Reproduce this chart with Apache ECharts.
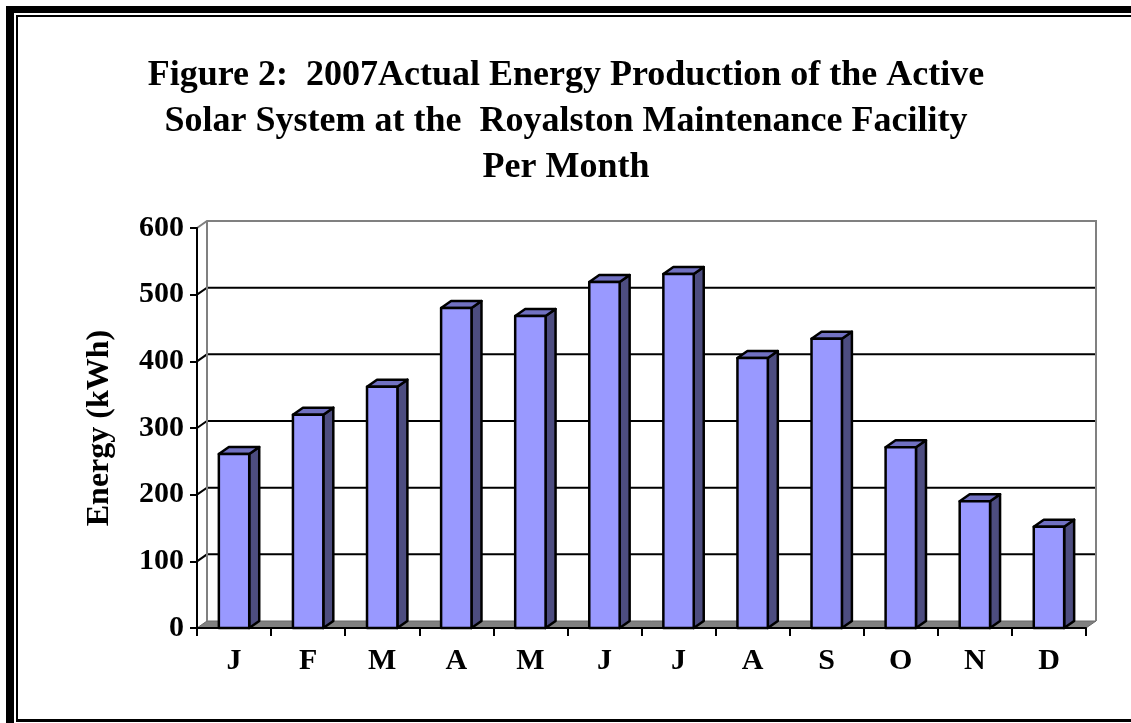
<!DOCTYPE html>
<html>
<head>
<meta charset="utf-8">
<script src="https://cdn.jsdelivr.net/npm/echarts@6/dist/echarts.min.js"></script>
<style>
html,body{margin:0;padding:0;background:#fff;}
#chart{width:1131px;height:723px;}
</style>
</head>
<body>
<div id="chart"></div>
<script>
const months = ['J','F','M','A','M','J','J','A','S','O','N','D'];
const energy = [261, 320, 362, 480, 468, 519, 531, 405, 434, 271, 190, 152];
const yTicks = [0, 100, 200, 300, 400, 500, 600];
const titleLines = [
  'Figure 2:  2007Actual Energy Production of the Active',
  'Solar System at the  Royalston Maintenance Facility',
  'Per Month'
];
const yName = 'Energy (kWh)';

const DX = 10, DY = 7;
const FONT = 'Liberation Serif, Times New Roman, serif';
const chart = echarts.init(document.getElementById('chart'));

function wallItem(params, api) {
  const v = api.value(1);
  const cs = params.coordSys;
  const x0 = cs.x, x1 = cs.x + cs.width;
  const y = api.coord([0, v])[1];
  const yBase = api.coord([0, yTicks[0]])[1];
  const children = [];
  if (v === yTicks[0]) {
    children.push({
      type: 'polygon',
      shape: {points: [[x0, y], [x1, y], [x1 + DX, y - DY], [x0 + DX, y - DY]]},
      style: {fill: '#808080', stroke: '#6a6a6a', lineWidth: 1}
    });
  } else if (v === yTicks[yTicks.length - 1]) {
    children.push({
      type: 'polyline',
      shape: {points: [[x0, y], [x0 + DX, y - DY], [x1 + DX, y - DY], [x1 + DX, yBase - DY]]},
      style: {stroke: '#808080', lineWidth: 2, fill: null}
    });
    children.push({
      type: 'line',
      shape: {x1: x0 + DX, y1: y - DY, x2: x0 + DX, y2: yBase - DY},
      style: {stroke: '#808080', lineWidth: 2}
    });
  } else {
    children.push({
      type: 'polyline',
      shape: {points: [[x0, y], [x0 + DX, y - DY], [x1 + DX, y - DY]]},
      style: {stroke: '#000', lineWidth: 2, fill: null}
    });
  }
  return {type: 'group', children};
}

function barItem(params, api) {
  const idx = api.value(0), v = api.value(1);
  const top = api.coord([idx, v]);
  const bot = api.coord([idx, 0]);
  const bw = api.size([1, 0])[0] * 0.41;
  const l = top[0] - bw / 2, r = top[0] + bw / 2;
  const ty = top[1], by = bot[1];
  const st = {stroke: '#000', lineWidth: 2.5, lineJoin: 'round'};
  return {
    type: 'group',
    children: [
      {type: 'polygon', shape: {points: [[r, ty], [r + DX, ty - DY], [r + DX, by - DY], [r, by]]},
       style: Object.assign({fill: '#4d4d80'}, st)},
      {type: 'polygon', shape: {points: [[l, ty], [l + DX, ty - DY], [r + DX, ty - DY], [r, ty]]},
       style: Object.assign({fill: '#7171c2'}, st)},
      {type: 'rect', shape: {x: l, y: ty, width: bw, height: by - ty},
       style: Object.assign({fill: '#9999ff'}, st)}
    ]
  };
}

chart.setOption({
  animation: false,
  backgroundColor: '#fff',
  grid: {left: 197, top: 228, width: 889, height: 400, containLabel: false},
  xAxis: {
    type: 'category',
    data: months,
    z: 10,
    axisLine: {lineStyle: {color: '#000', width: 2}},
    axisTick: {show: true, length: 8, interval: 0, lineStyle: {color: '#000', width: 2}},
    axisLabel: {interval: 0, margin: 18, fontFamily: FONT, fontWeight: 'bold', fontSize: 30, color: '#000'},
    splitLine: {show: false}
  },
  yAxis: {
    type: 'value',
    min: 0, max: 600, interval: 100,
    z: 10,
    name: yName,
    nameLocation: 'middle',
    nameGap: 81,
    nameRotate: 90,
    nameTextStyle: {fontFamily: FONT, fontWeight: 'bold', fontSize: 32, color: '#000'},
    axisLine: {show: true, lineStyle: {color: '#000', width: 2}},
    axisTick: {show: true, length: 7, lineStyle: {color: '#000', width: 2}},
    axisLabel: {margin: 13, fontFamily: FONT, fontWeight: 'bold', fontSize: 30, color: '#000'},
    splitLine: {show: false}
  },
  series: [
    {type: 'custom', z: 1, renderItem: wallItem, data: yTicks.map(v => [0, v]), silent: true},
    {type: 'custom', z: 2, renderItem: barItem, data: energy.map((v, i) => [i, v])}
  ],
  graphic: [
    {type: 'text', x: 566, y: 53, z: 50,
     style: {text: titleLines.join('\n'), align: 'center', verticalAlign: 'top',
             fontFamily: FONT, fontWeight: 'bold', fontSize: 36, lineHeight: 46, fill: '#000'}},
    {type: 'rect', shape: {x: 6, y: 6, width: 1125, height: 7}, style: {fill: '#000'}, z: 100},
    {type: 'rect', shape: {x: 6, y: 6, width: 8, height: 717}, style: {fill: '#000'}, z: 100},
    {type: 'rect', shape: {x: 16, y: 15, width: 1115, height: 2}, style: {fill: '#000'}, z: 100},
    {type: 'rect', shape: {x: 16, y: 15, width: 2, height: 707}, style: {fill: '#000'}, z: 100},
    {type: 'rect', shape: {x: 16, y: 719, width: 1115, height: 3}, style: {fill: '#000'}, z: 100}
  ]
});
</script>
</body>
</html>
